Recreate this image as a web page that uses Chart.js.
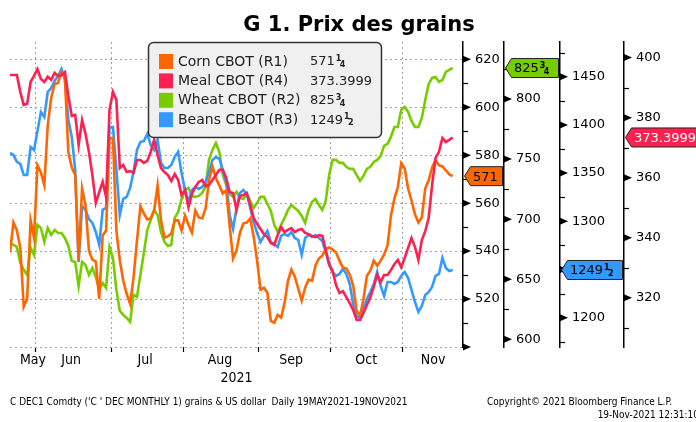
<!DOCTYPE html>
<html>
<head>
<meta charset="utf-8">
<title>G 1. Prix des grains</title>
<script src="https://cdn.jsdelivr.net/npm/chart.js@4.4.0/dist/chart.umd.min.js"></script>
<style>
    html, body { margin: 0; padding: 0; background: #fff; }
    #wrap { width: 696px; height: 422px; }
</style>
</head>
<body>
<div id="wrap"><canvas id="grainsChart" width="696" height="422"></canvas></div>
<script>
// Daily closes, 19 May 2021 - 19 Nov 2021 (one value per trading day)
const corn = [
    539.4, 551.9, 548.6, 541.5, 516.8, 520.1, 552.8, 545.6, 575.8, 572.8,
    567.4, 592.5, 603.8, 609.7, 610.1, 614.7, 612.2, 581.2, 574.9, 571.6,
    536.0, 566.1, 559.0, 540.2, 536.4, 535.6, 520.1, 546.5, 548.6, 587.1,
    587.1, 548.6, 536.0, 527.6, 522.2, 518.0, 528.9, 544.4, 558.6, 555.7,
    553.2, 553.6, 556.9, 567.4, 552.8, 545.6, 546.1, 547.3, 552.8, 552.8,
    548.6, 554.8, 551.1, 547.7, 556.9, 554.0, 553.6, 557.8, 569.5, 575.3,
    570.3, 567.4, 564.0, 565.3, 550.7, 536.9, 540.2, 547.7, 551.5, 551.9,
    553.6, 546.1, 536.0, 523.9, 524.7, 522.6, 510.9, 510.1, 513.4, 512.2,
    518.4, 527.6, 532.3, 529.3, 524.3, 519.3, 524.7, 528.1, 527.6, 533.9,
    536.9, 538.1, 541.0, 541.5, 540.6, 539.4, 536.0, 533.1, 532.7, 530.2,
    525.6, 515.1, 513.0, 520.1, 529.7, 531.8, 536.0, 533.9, 536.0, 538.5,
    542.3, 554.8, 561.9, 566.6, 576.6, 574.5, 566.1, 561.1, 555.3, 551.9,
    554.0, 566.1, 569.5, 574.9, 577.9, 575.8, 575.3, 573.7, 572.0, 571.25
];
const meal = [
    394.2, 394.2, 394.2, 388.6, 384.2, 384.6, 391.9, 393.9, 396.2, 392.9,
    391.9, 393.6, 392.6, 394.9, 393.9, 394.2, 395.2, 387.2, 380.6, 380.9,
    370.9, 379.2, 374.6, 368.6, 360.9, 351.6, 355.2, 358.6, 353.6, 382.6,
    388.6, 385.9, 363.2, 364.2, 361.9, 362.2, 361.6, 365.9, 365.9, 364.9,
    365.6, 368.6, 372.6, 367.6, 363.2, 361.9, 360.9, 358.9, 361.2, 359.2,
    354.2, 355.9, 350.2, 354.6, 356.9, 358.6, 359.2, 357.2, 357.6, 359.2,
    360.9, 362.6, 362.6, 359.9, 355.2, 354.9, 349.2, 353.9, 354.2, 354.9,
    350.9, 346.6, 344.6, 342.9, 341.2, 340.2, 338.2, 337.6, 340.9, 343.6,
    341.9, 342.6, 343.2, 341.9, 342.6, 342.9, 341.6, 341.2, 340.6, 340.2,
    340.9, 340.6, 335.9, 331.2, 328.9, 324.2, 321.6, 322.2, 320.2, 318.2,
    315.9, 312.6, 312.6, 314.9, 317.6, 320.2, 323.6, 327.6, 325.2, 327.6,
    327.6, 329.2, 331.2, 332.6, 330.2, 333.2, 336.6, 339.9, 336.9, 332.6,
    339.2, 342.2, 346.6, 357.6, 366.6, 368.6, 373.2, 371.9, 372.6, 373.3999
];
const wheat = [
    680.2, 678.6, 676.9, 663.6, 657.8, 653.6, 676.1, 670.2, 695.2, 692.7,
    681.1, 692.7, 686.9, 691.0, 688.5, 688.5, 684.4, 677.7, 665.2, 664.4,
    644.4, 664.4, 661.9, 653.6, 659.4, 651.9, 641.1, 646.9, 642.8, 676.9,
    667.7, 641.1, 623.6, 620.3, 617.8, 614.5, 637.0, 635.3, 653.6, 671.9,
    691.0, 699.4, 707.7, 703.5, 689.4, 681.1, 677.7, 678.6, 701.0, 706.0,
    716.8, 724.3, 726.0, 719.3, 718.5, 719.3, 721.8, 726.8, 749.3, 757.6,
    763.4, 755.9, 736.8, 728.5, 721.0, 718.5, 722.7, 717.7, 716.8, 721.0,
    715.2, 709.3, 713.5, 718.5, 718.5, 712.7, 706.8, 695.2, 689.4, 695.2,
    701.0, 707.7, 711.8, 709.3, 706.8, 702.7, 696.9, 707.7, 714.3, 716.8,
    711.8, 707.7, 715.2, 736.8, 749.3, 749.3, 746.8, 746.8, 743.5, 741.8,
    741.8, 736.8, 731.8, 736.0, 741.8, 743.5, 747.6, 749.3, 752.6, 760.9,
    762.6, 768.4, 776.7, 776.7, 790.9, 793.4, 789.2, 781.7, 776.7, 776.7,
    784.2, 799.2, 812.5, 817.5, 818.3, 814.2, 815.8, 822.5, 824.2, 825.75
];
const beans = [
    1370.9, 1368.8, 1361.6, 1359.5, 1348.1, 1348.1, 1377.1, 1374.0, 1393.7, 1413.4,
    1408.2, 1434.2, 1438.3, 1445.6, 1450.8, 1458.0, 1446.6, 1405.1, 1387.5, 1353.3,
    1257.8, 1315.9, 1311.8, 1302.4, 1298.3, 1288.9, 1275.5, 1311.8, 1313.8, 1397.9,
    1397.9, 1353.3, 1306.6, 1323.2, 1325.3, 1334.6, 1351.2, 1374.0, 1382.3, 1383.3,
    1390.6, 1379.2, 1374.0, 1384.4, 1360.5, 1355.3, 1355.3, 1358.4, 1366.7, 1371.9,
    1350.1, 1332.5, 1320.1, 1332.5, 1335.6, 1333.6, 1335.6, 1340.8, 1351.2, 1363.6,
    1366.7, 1364.7, 1353.3, 1340.8, 1306.6, 1292.1, 1313.8, 1329.4, 1332.5, 1328.4,
    1313.8, 1299.3, 1287.9, 1278.6, 1284.8, 1290.0, 1278.6, 1276.5, 1273.4, 1284.8,
    1286.9, 1284.8, 1288.9, 1282.7, 1280.6, 1265.1, 1282.7, 1285.8, 1283.8, 1285.8,
    1282.7, 1279.6, 1268.2, 1254.7, 1247.5, 1243.3, 1245.4, 1250.6, 1245.4, 1235.0,
    1214.3, 1201.8, 1199.7, 1210.1, 1219.4, 1226.7, 1235.0, 1247.5, 1232.9, 1222.6,
    1237.1, 1237.1, 1235.0, 1237.1, 1243.3, 1247.5, 1241.2, 1228.8, 1216.3, 1206.0,
    1212.2, 1223.6, 1226.7, 1231.9, 1243.3, 1245.4, 1262.0, 1251.6, 1248.5, 1249.5
];

// trading day number on the x axis
const dayIndex = corn.map((v, i) => i);

// months: boundaries (between trading days) and label spots
const monthBreaks = [7.5, 29.5, 50.5, 72.5, 93.5, 114.5];
const monthNames = ['May', 'Jun', 'Jul', 'Aug', 'Sep', 'Oct', 'Nov'];
const monthLabelAt = [6.7, 17.8, 39.4, 61.2, 81.9, 103.8, 123.3];

// right-hand axes
const cornTicks = [500, 520, 540, 560, 580, 600, 620];
const wheatTicks = [600, 650, 700, 750, 800];
const beansTicks = [1200, 1250, 1300, 1350, 1400, 1450];
const mealTicks = [320, 340, 360, 380, 400];

const COLORS = { corn: '#ff6600', meal: '#ff2050', wheat: '#77cc00', beans: '#3399ff' };
const FONT = '"DejaVu Sans", Verdana, sans-serif';
const NARROW = '"DejaVu Sans Condensed", "Liberation Sans Narrow", "DejaVu Sans", sans-serif';

const series = [
    { key: 'corn', label: 'Corn CBOT (R1)', data: corn, axis: 'yCorn', quarters: true, tagText: '#000' },
    { key: 'meal', label: 'Meal CBOT (R4)', data: meal, axis: 'yMeal', quarters: false, tagText: '#fff' },
    { key: 'wheat', label: 'Wheat CBOT (R2)', data: wheat, axis: 'yWheat', quarters: true, tagText: '#000' },
    { key: 'beans', label: 'Beans CBOT (R3)', data: beans, axis: 'yBeans', quarters: true, tagText: '#000' }
];

// 571.25 -> '571' + 1/4 ; meal keeps decimals
function priceParts(v, quarters) {
    if (!quarters) return { whole: v.toFixed(4), frac: null };
    const whole = Math.floor(v + 1e-6);
    const q = Math.round((v - whole) * 4);
    const frac = q === 1 ? ['1', '4'] : q === 2 ? ['1', '2'] : q === 3 ? ['3', '4'] : null;
    return { whole: String(whole), frac: frac };
}

function drawPrice(ctx, x, y, p, size, color) {
    ctx.fillStyle = color;
    ctx.textAlign = 'left';
    ctx.textBaseline = 'middle';
    ctx.font = size + 'px ' + FONT;
    ctx.fillText(p.whole, x, y);
    if (!p.frac) return;
    const w = ctx.measureText(p.whole).width;
    ctx.font = 'bold 8px ' + FONT;
    ctx.fillText(p.frac[0], x + w + 1, y - 3);
    ctx.fillText(p.frac[1], x + w + 5, y + 3);
}

function yAxis(min, max, weight, width, ticksArr, onArea) {
    return {
        type: 'linear',
        position: 'right',
        weight: weight,
        min: min,
        max: max,
        afterBuildTicks: s => { s.ticks = ticksArr.map(v => ({ value: v })); },
        afterFit: s => { s.width = width; },
        grid: { display: true, drawOnChartArea: onArea, drawTicks: false, color: '#a0a0a0', lineWidth: 1 },
        border: { display: true, color: '#000', width: 1.5, dash: [2, 3] },
        ticks: {
            padding: 12,
            color: '#000',
            font: { family: FONT, size: 13 },
            callback: v => (v === 500 ? '' : v)
        }
    };
}

// axis arrows, minor ticks, last-value tags, legend box, title, footer
const decorPlugin = {
    id: 'decor',
    afterDatasetsDraw(chart) {
        const ctx = chart.ctx;
        // legend box
        ctx.save();
        ctx.beginPath();
        ctx.roundRect(148.5, 42.5, 233, 95, 5);
        ctx.fillStyle = '#f0f0f0';
        ctx.fill();
        ctx.lineWidth = 1.5;
        ctx.strokeStyle = '#333';
        ctx.stroke();
        series.forEach((s, i) => {
            const y = 61 + i * 19.4;
            ctx.fillStyle = COLORS[s.key];
            ctx.fillRect(159, y - 7, 14, 15);
            ctx.fillStyle = '#222';
            ctx.font = '14px ' + FONT;
            ctx.textAlign = 'left';
            ctx.textBaseline = 'middle';
            ctx.fillText(s.label, 178, y + 1);
            drawPrice(ctx, 310, y + 1, priceParts(s.data[s.data.length - 1], s.quarters), 13, '#222');
        });
        ctx.restore();
    },
    afterDraw(chart) {
        const ctx = chart.ctx;
        const minorSteps = { yCorn: 10, yWheat: 25, yBeans: 25, yMeal: 10 };
        ctx.save();
        ['yCorn', 'yWheat', 'yBeans', 'yMeal'].forEach(id => {
            const sc = chart.scales[id];
            const x = sc.left;
            ctx.fillStyle = '#000';
            sc.ticks.forEach(t => {
                const y = sc.getPixelForValue(t.value);
                ctx.beginPath();
                ctx.moveTo(x, y - 3.5);
                ctx.lineTo(x + 8, y);
                ctx.lineTo(x, y + 3.5);
                ctx.closePath();
                ctx.fill();
            });
            const st = minorSteps[id];
            ctx.strokeStyle = '#000';
            ctx.lineWidth = 1.2;
            for (let v = Math.ceil(sc.min / st) * st; v <= sc.max; v += st) {
                if (sc.ticks.some(t => t.value === v)) continue;
                const y = Math.round(sc.getPixelForValue(v)) + 0.5;
                ctx.beginPath();
                ctx.moveTo(x, y);
                ctx.lineTo(x + 5, y);
                ctx.stroke();
            }
        });

        // last value tags
        series.forEach(s => {
            const sc = chart.scales[s.axis];
            const last = s.data[s.data.length - 1];
            const y = sc.getPixelForValue(last);
            const left = sc.left + 1.5, right = s.key === 'meal' ? 700 : sc.right - 1.5;
            const h = 19, tip = 6;
            ctx.beginPath();
            ctx.moveTo(left, y);
            ctx.lineTo(left + tip, y - h / 2);
            ctx.lineTo(right, y - h / 2);
            ctx.lineTo(right, y + h / 2);
            ctx.lineTo(left + tip, y + h / 2);
            ctx.closePath();
            ctx.fillStyle = COLORS[s.key];
            ctx.fill();
            ctx.lineWidth = 1;
            ctx.strokeStyle = '#222';
            ctx.stroke();
            let p = priceParts(last, s.quarters);
            if (s.key === 'corn') p = { whole: p.whole, frac: null };
            drawPrice(ctx, sc.left + 10, y + 1, p, 13, s.tagText);
        });

        // title
        ctx.fillStyle = '#000';
        ctx.textAlign = 'center';
        ctx.textBaseline = 'alphabetic';
        ctx.font = 'bold 21px ' + FONT;
        ctx.fillText('G 1. Prix des grains', 359, 31);

        // footer
        ctx.font = '10px ' + NARROW;
        ctx.textBaseline = 'middle';
        ctx.textAlign = 'left';
        ctx.fillText("C DEC1 Comdty ('C ' DEC MONTHLY 1) grains & US dollar  Daily 19MAY2021-19NOV2021", 10, 402, 455);
        ctx.fillText('Copyright\u00a9 2021 Bloomberg Finance L.P.', 487, 402, 209);
        ctx.textAlign = 'right';
        ctx.fillText('19-Nov-2021 12:31:10', 699, 415, 148);
        ctx.restore();
    }
};

function lineSet(s, order) {
    return {
        label: s.label,
        data: s.data.map((v, i) => ({ x: dayIndex[i], y: v })),
        yAxisID: s.axis,
        xAxisID: 'x',
        borderColor: COLORS[s.key],
        borderWidth: 2.6,
        pointRadius: 0,
        tension: 0,
        order: order
    };
}

new Chart(document.getElementById('grainsChart').getContext('2d'), {
    type: 'line',
    data: {
        datasets: [
            lineSet(series[1], 1),
            lineSet(series[0], 2),
            lineSet(series[3], 3),
            lineSet(series[2], 4)
        ]
    },
    options: {
        responsive: false,
        animation: false,
        layout: { padding: { top: 42, left: 10, right: 0, bottom: 31 } },
        plugins: { legend: { display: false }, title: { display: false }, tooltip: { enabled: false } },
        scales: {
            x: {
                type: 'linear',
                position: 'bottom',
                weight: 0,
                min: 0,
                max: 132,
                afterBuildTicks: s => { s.ticks = monthBreaks.map(v => ({ value: v })); },
                afterFit: s => { s.height = 4; },
                grid: { display: true, drawOnChartArea: true, drawTicks: true, tickLength: 5, color: '#a0a0a0', tickColor: '#000', tickWidth: 1.2 },
                border: { display: false, dash: [2, 3] },
                ticks: { display: false }
            },
            xm: {
                type: 'linear',
                position: 'bottom',
                weight: 1,
                min: 0,
                max: 132,
                afterBuildTicks: s => { s.ticks = monthLabelAt.map(v => ({ value: v })); },
                afterFit: s => { s.height = 40; },
                grid: { display: false, drawTicks: false },
                border: { display: false },
                ticks: {
                    padding: 1,
                    maxRotation: 0,
                    autoSkip: false,
                    color: '#000',
                    font: { family: NARROW, size: 14 },
                    callback: (v, i) => monthNames[i]
                },
                title: { display: true, text: '2021', color: '#000', font: { family: NARROW, size: 14 }, padding: { top: 0, bottom: 4 } }
            },
            yCorn: yAxis(500, 627.2, 0, 41, cornTicks, true),
            yWheat: yAxis(593.6, 847.4, 1, 56, wheatTicks, false),
            yBeans: yAxis(1169.6, 1486, 2, 64, beansTicks, false),
            yMeal: yAxis(303.6, 405.2, 3, 72, mealTicks, false)
        }
    },
    plugins: [decorPlugin]
});
</script>
</body>
</html>
